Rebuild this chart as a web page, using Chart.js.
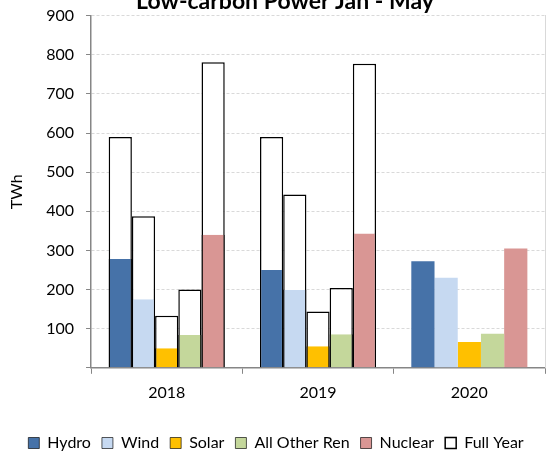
<!DOCTYPE html>
<html>
<head>
<title>Low-carbon Power Jan - May</title>
<style>
  body { margin: 0; background: #fff; overflow: hidden; }
  #wrap { position: absolute; left: 0; top: -12px; width: 554px; height: 473px; }
</style>
</head>
<body>
<div id="wrap">
  <canvas id="chartPower"></canvas>
</div>
<script src="https://cdn.jsdelivr.net/npm/chart.js@4.4.1/dist/chart.umd.min.js"></script>
<script>
// Jan - May generation, TWh
const years = ['2018', '2019', '2020'];
const hydro = [278, 250, 272];
const wind = [175, 199, 230];
const solar = [50, 55, 66];
const otherRen = [84, 86, 87];
const nuclear = [340, 343, 305];
// full year totals (no 2020 yet)
const hydroFull = [590, 590, null];
const windFull = [387, 443, null];
const solarFull = [133, 144, null];
const otherFull = [200, 204, null];
const nuclearFull = [781, 777, null];

const seriesNames = ['Hydro', 'Wind', 'Solar', 'All Other Ren', 'Nuclear'];
const seriesColors = ['#4672a8', '#c6d9f1', '#ffc000', '#c4d79b', '#d99694'];
const janMay = [hydro, wind, solar, otherRen, nuclear];
const fullYear = [hydroFull, windFull, solarFull, otherFull, nuclearFull];

const fontName = 'Lato';
const axisGrey = '#868686';

let datasets = [];
janMay.forEach(function(vals, i) {
  datasets.push({
    label: seriesNames[i],
    data: vals,
    stack: 's' + i,
    order: 0,
    backgroundColor: seriesColors[i],
    borderColor: '#000',
    // black sides where a full year bar sits behind
    borderWidth: function(ctx) {
      return ctx.dataIndex < 2 ? {left: 1.3, right: 1.3, top: 0, bottom: 0} : 0;
    },
    borderSkipped: false
  });
});
// full year bars share the slot of their series, drawn behind
fullYear.forEach(function(vals, i) {
  datasets.push({
    label: 'Full Year',
    data: vals,
    stack: 's' + i,
    order: 1,
    backgroundColor: '#fff',
    borderColor: '#000',
    borderWidth: 1.5
  });
});

// title in the original sits a bit right of the canvas centre
const titleShift = {
  id: 'titleShift',
  afterLayout: function(chart) {
    chart.titleBlock.left += 9;
    chart.titleBlock.right += 9;
  }
};

let config = {
  type: 'bar',
  data: { labels: years, datasets: datasets },
  plugins: [titleShift],
  options: {
    responsive: true,
    maintainAspectRatio: false,
    animation: false,
    categoryPercentage: 0.767,
    barPercentage: 1.0,
    layout: { padding: { left: 7, right: 9, top: 0, bottom: 0 } },
    plugins: {
      title: {
        display: true,
        text: 'Low-carbon Power Jan - May',
        color: '#000',
        font: { family: fontName, size: 23, weight: 'bold' },
        padding: { top: 0, bottom: 0 }
      },
      legend: {
        position: 'bottom',
        labels: {
          color: '#000',
          font: { family: fontName, size: 16 },
          boxWidth: 11,
          boxHeight: 11,
          padding: 11,
          filter: function(item) {
            return item.datasetIndex <= 5;
          }
        }
      },
      tooltip: { enabled: false }
    },
    scales: {
      x: {
        stacked: true,
        grid: { display: true, offset: true, drawOnChartArea: false, color: axisGrey, tickLength: 6 },
        border: { color: axisGrey, width: 1.5 },
        ticks: { color: '#000', font: { family: fontName, size: 16 }, padding: 9 },
        afterFit: function(scale) { scale.height += 13; }
      },
      y: {
        stacked: false,
        min: 0,
        max: 900,
        ticks: {
          stepSize: 100,
          color: '#000',
          font: { family: fontName, size: 16 },
          padding: 12,
          callback: function(v) { return v === 0 ? '' : v; }
        },
        grid: { color: '#d9d9d9', tickColor: axisGrey, tickLength: 5, lineWidth: 1 },
        border: { color: axisGrey, width: 1.5, dash: [3, 2] },
        title: {
          display: true,
          text: 'TWh',
          color: '#000',
          font: { family: fontName, size: 16 },
          padding: { top: 0, bottom: 8 }
        }
      },
      y2: {
        position: 'right',
        min: 0,
        max: 900,
        ticks: { display: false },
        grid: { display: false, drawTicks: false },
        border: { color: '#d9d9d9', width: 1 }
      }
    }
  }
};

let ctx = document.getElementById('chartPower').getContext('2d');
new Chart(ctx, config);
</script>
</body>
</html>
